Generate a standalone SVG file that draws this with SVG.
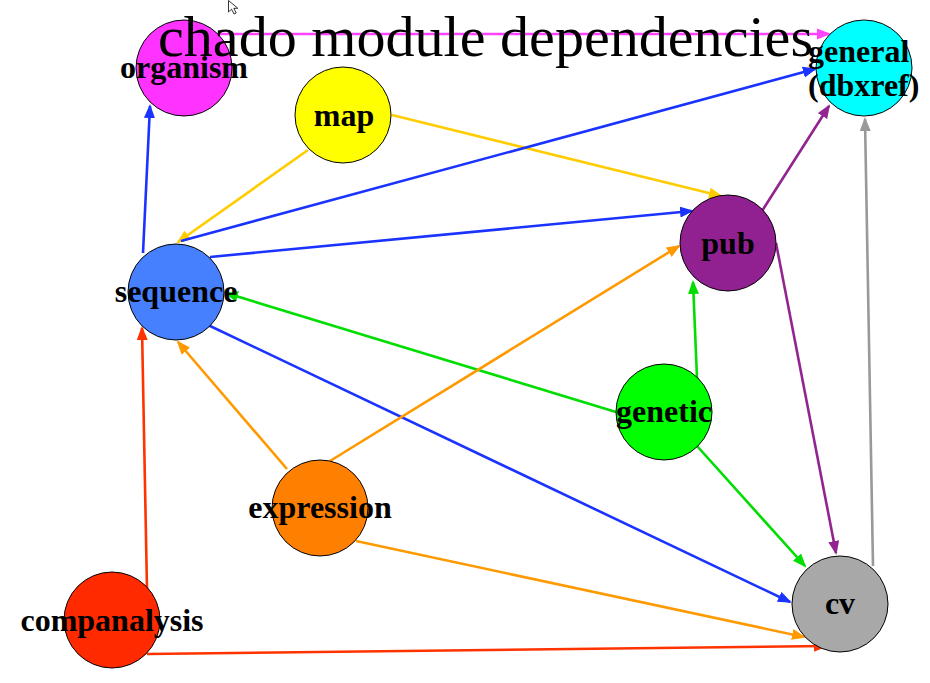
<svg xmlns="http://www.w3.org/2000/svg" width="930" height="683" viewBox="0 0 930 683">
<style>
.e{fill:none;stroke-width:2.6}
.n{stroke:#000;stroke-width:1}
.l{font-family:"Liberation Serif","Times New Roman",serif;font-weight:bold;font-size:32px;fill:#000;text-anchor:middle}
.t{font-family:"Liberation Serif","Times New Roman",serif;font-size:58px;fill:#000}
</style>
<defs>
<marker id="aM" markerUnits="userSpaceOnUse" markerWidth="15" markerHeight="12" refX="12" refY="6" orient="auto"><path d="M0,0.5 L14,6 L0,11.5 z" fill="#ff44ff"/></marker>
<marker id="aY" markerUnits="userSpaceOnUse" markerWidth="15" markerHeight="12" refX="12" refY="6" orient="auto"><path d="M0,0.5 L14,6 L0,11.5 z" fill="#ffcc00"/></marker>
<marker id="aB" markerUnits="userSpaceOnUse" markerWidth="15" markerHeight="12" refX="12" refY="6" orient="auto"><path d="M0,0.5 L14,6 L0,11.5 z" fill="#1a33ff"/></marker>
<marker id="aP" markerUnits="userSpaceOnUse" markerWidth="15" markerHeight="12" refX="12" refY="6" orient="auto"><path d="M0,0.5 L14,6 L0,11.5 z" fill="#912491"/></marker>
<marker id="aG" markerUnits="userSpaceOnUse" markerWidth="15" markerHeight="12" refX="12" refY="6" orient="auto"><path d="M0,0.5 L14,6 L0,11.5 z" fill="#00dd00"/></marker>
<marker id="aO" markerUnits="userSpaceOnUse" markerWidth="15" markerHeight="12" refX="12" refY="6" orient="auto"><path d="M0,0.5 L14,6 L0,11.5 z" fill="#ff9900"/></marker>
<marker id="aR" markerUnits="userSpaceOnUse" markerWidth="15" markerHeight="12" refX="12" refY="6" orient="auto"><path d="M0,0.5 L14,6 L0,11.5 z" fill="#ff3300"/></marker>
<marker id="aK" markerUnits="userSpaceOnUse" markerWidth="15" markerHeight="12" refX="12" refY="6" orient="auto"><path d="M0,0.5 L14,6 L0,11.5 z" fill="#999999"/></marker>
</defs>
<rect width="930" height="683" fill="#fff"/>
<g id="connectors">
<path class="e" stroke="#ff44ff" marker-end="url(#aM)" d="M218,34 L829,34"/>
<path class="e" stroke="#ffcc00" marker-end="url(#aY)" d="M308,150 L178,242"/>
<path class="e" stroke="#ffcc00" marker-end="url(#aY)" d="M392,115 L721,196"/>
<path class="e" stroke="#1a33ff" marker-end="url(#aB)" d="M143,253 L150,106"/>
<path class="e" stroke="#1a33ff" marker-end="url(#aB)" d="M181,241 L815,69"/>
<path class="e" stroke="#1a33ff" marker-end="url(#aB)" d="M210,257 L692,211"/>
<path class="e" stroke="#1a33ff" marker-end="url(#aB)" d="M208,325 L790,602"/>
<path class="e" stroke="#912491" marker-end="url(#aP)" d="M762,211 L829,106"/>
<path class="e" stroke="#912491" marker-end="url(#aP)" d="M776,243 L836,553"/>
<path class="e" stroke="#00dd00" marker-end="url(#aG)" d="M616,412 L226,293"/>
<path class="e" stroke="#00dd00" marker-end="url(#aG)" d="M697,378 L693,282"/>
<path class="e" stroke="#00dd00" marker-end="url(#aG)" d="M697,446 L805,566"/>
<path class="e" stroke="#ff9900" marker-end="url(#aO)" d="M287,469 L178,342"/>
<path class="e" stroke="#ff9900" marker-end="url(#aO)" d="M330,461 L679,246"/>
<path class="e" stroke="#ff9900" marker-end="url(#aO)" d="M356,541 L804,637"/>
<path class="e" stroke="#ff3300" marker-end="url(#aR)" d="M147,590 L142,328"/>
<path class="e" stroke="#ff3300" marker-end="url(#aR)" d="M147,654 L826,646"/>
<path class="e" stroke="#999999" marker-end="url(#aK)" d="M873,566 L865,119"/>
</g>
<g id="organism"><circle class="n" cx="184" cy="68" r="48" fill="#ff33ff"/><text class="l" x="184" y="78">organism</text></g>
<g id="map"><circle class="n" cx="343" cy="115" r="48" fill="#ffff00"/><text class="l" x="344" y="126">map</text></g>
<g id="general"><circle class="n" cx="864" cy="68" r="48" fill="#00ffff"/><text class="l" style="text-anchor:start" x="808" y="62">general</text><text class="l" style="text-anchor:start" x="808" y="96">(dbxref)</text></g>
<g id="sequence"><circle class="n" cx="176" cy="292" r="48" fill="#4780ff"/><text class="l" x="176" y="302">sequence</text></g>
<g id="pub"><circle class="n" cx="728" cy="243" r="48" fill="#912191"/><text class="l" x="728" y="254">pub</text></g>
<g id="genetic"><circle class="n" cx="664" cy="412" r="48" fill="#00ff00"/><text class="l" x="664" y="422">genetic</text></g>
<g id="expression"><circle class="n" cx="320" cy="508" r="48" fill="#ff8000"/><text class="l" x="320" y="518">expression</text></g>
<g id="companalysis"><circle class="n" cx="112" cy="620" r="48" fill="#ff2a00"/><text class="l" x="112" y="631">companalysis</text></g>
<g id="cv"><circle class="n" cx="840" cy="604" r="48" fill="#a8a8a8"/><text class="l" x="840" y="614">cv</text></g>
<text class="t" x="158" y="56" textLength="655" lengthAdjust="spacingAndGlyphs">chado module dependencies</text>
<path d="M228.5,0.5 L228.5,12 L231.5,9.2 L234,14 L236.2,13 L233.8,8.3 L237.8,8.3 z" fill="#fff" stroke="#000" stroke-width="0.8"/>
</svg>
